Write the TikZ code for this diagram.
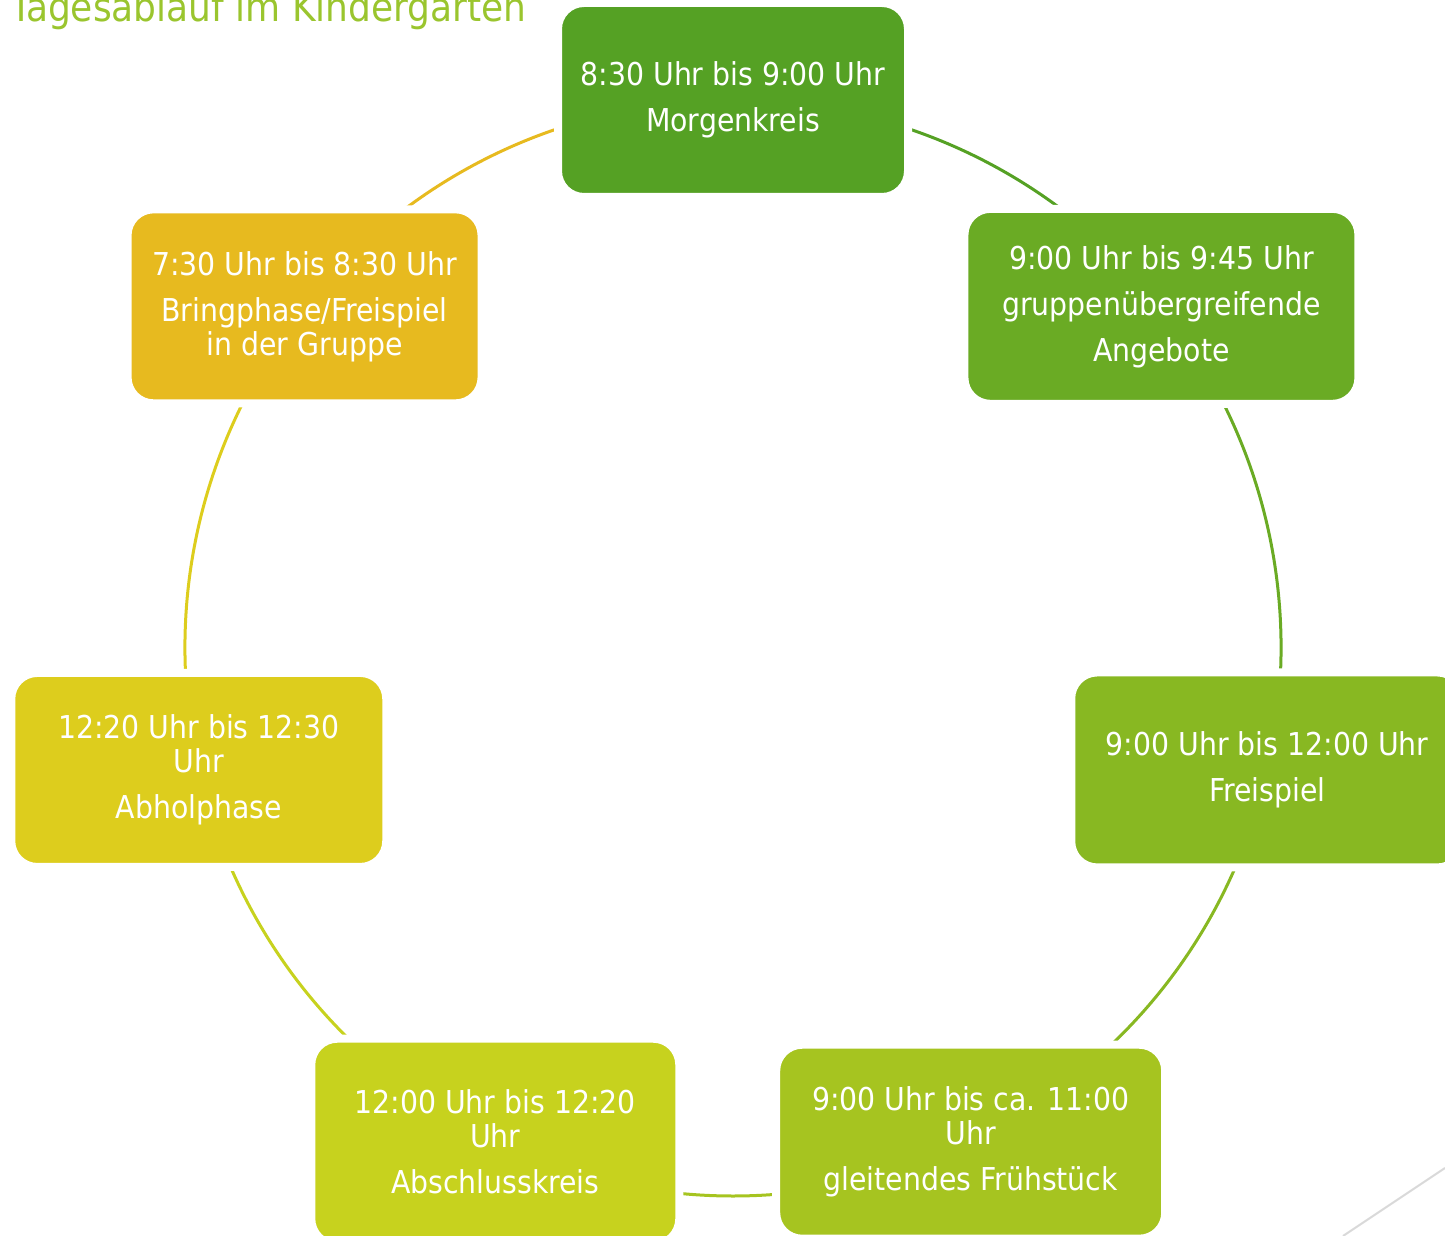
\documentclass[tikz,border=0pt]{standalone}
\usepackage{fontspec}
\newfontfamily\boxfont{DejaVu Sans Condensed}
\usetikzlibrary{backgrounds, calc}

\definecolor{cTitel}{HTML}{9AC52E}
\definecolor{cMorgen}{HTML}{55A124}
\definecolor{cAngebote}{HTML}{6AAB24}
\definecolor{cFreispiel}{HTML}{88B822}
\definecolor{cFruehstueck}{HTML}{A6C420}
\definecolor{cAbschluss}{HTML}{C7D21E}
\definecolor{cAbholung}{HTML}{DDCD1D}
\definecolor{cBring}{HTML}{E7BA1F}
\definecolor{cLinie}{HTML}{D9D9D9}

\tikzset{
    phase/.style={rectangle, rounded corners=26pt, draw=white, line width=8pt,
        text=white, align=center, inner sep=0pt,
        font=\boxfont\fontsize{31.5}{34}\selectfont},
    ring/.style={line width=3pt},
}

\begin{document}
\begin{tikzpicture}[x=1pt, y=1pt]

    \useasboundingbox (0,0) rectangle (1445,1236);
    \clip (0,0) rectangle (1445,1236);

    % Mittelpunkt des Kreises
    \coordinate (mid) at (733,588);

    % Titel
    \node[anchor=base east, text=cTitel, font=\boxfont\fontsize{40}{44}\selectfont] (titel) at (530,1214) {Tagesablauf im Kindergarten};

    % 1. Die sieben Phasen im Uhrzeigersinn (Radius 548, Schritt 360/7)
    \node[phase, fill=cMorgen, minimum width=350pt, minimum height=194pt] (morgen) at ($(mid)+(90:548)$)
        {8:30 Uhr bis 9:00 Uhr\\[12pt]Morgenkreis};
    \node[phase, fill=cAngebote, minimum width=394pt, minimum height=195pt] (angebote) at ($(mid)+(38.57:548)$)
        {9:00 Uhr bis 9:45 Uhr\\[12pt]gruppenübergreifende\\[12pt]Angebote};
    \node[phase, fill=cFreispiel, minimum width=392pt, minimum height=195pt] (freispiel) at ($(mid)+(-12.86:548)$)
        {9:00 Uhr bis 12:00 Uhr\\[12pt]Freispiel};
    \node[phase, fill=cFruehstueck, minimum width=389pt, minimum height=194pt] (fruehstueck) at ($(mid)+(-64.29:548)$)
        {9:00 Uhr bis ca. 11:00\\Uhr\\[12pt]gleitendes Frühstück};
    \node[phase, fill=cAbschluss, minimum width=368pt, minimum height=206pt] (abschluss) at ($(mid)+(-115.71:548)$)
        {12:00 Uhr bis 12:20\\Uhr\\[12pt]Abschlusskreis};
    \node[phase, fill=cAbholung, minimum width=375pt, minimum height=194pt] (abholung) at ($(mid)+(-167.14:548)$)
        {12:20 Uhr bis 12:30\\Uhr\\[12pt]Abholphase};
    \node[phase, fill=cBring, minimum width=354pt, minimum height=194pt] (bring) at ($(mid)+(141.43:548)$)
        {7:30 Uhr bis 8:30 Uhr\\[12pt]Bringphase/Freispiel\\in der Gruppe};

    % 2. Kreisbögen zwischen den Phasen (Farbe der jeweils vorigen Phase)
    \begin{scope}[on background layer]
        \foreach \von/\nach/\farbe in {morgen/angebote/cMorgen, angebote/freispiel/cAngebote,
            freispiel/fruehstueck/cFreispiel, fruehstueck/abschluss/cFruehstueck,
            abschluss/abholung/cAbschluss, abholung/bring/cAbholung, bring/morgen/cBring}
        {
            \draw[ring, draw=\farbe] (\von.center) to[bend left=25.71, looseness=0.9] (\nach.center);
        }
    \end{scope}

    % 3. Zierlinie unten rechts
    \draw[line width=2pt, cLinie] (1343,0) -- (1445,68);

\end{tikzpicture}
\end{document}
